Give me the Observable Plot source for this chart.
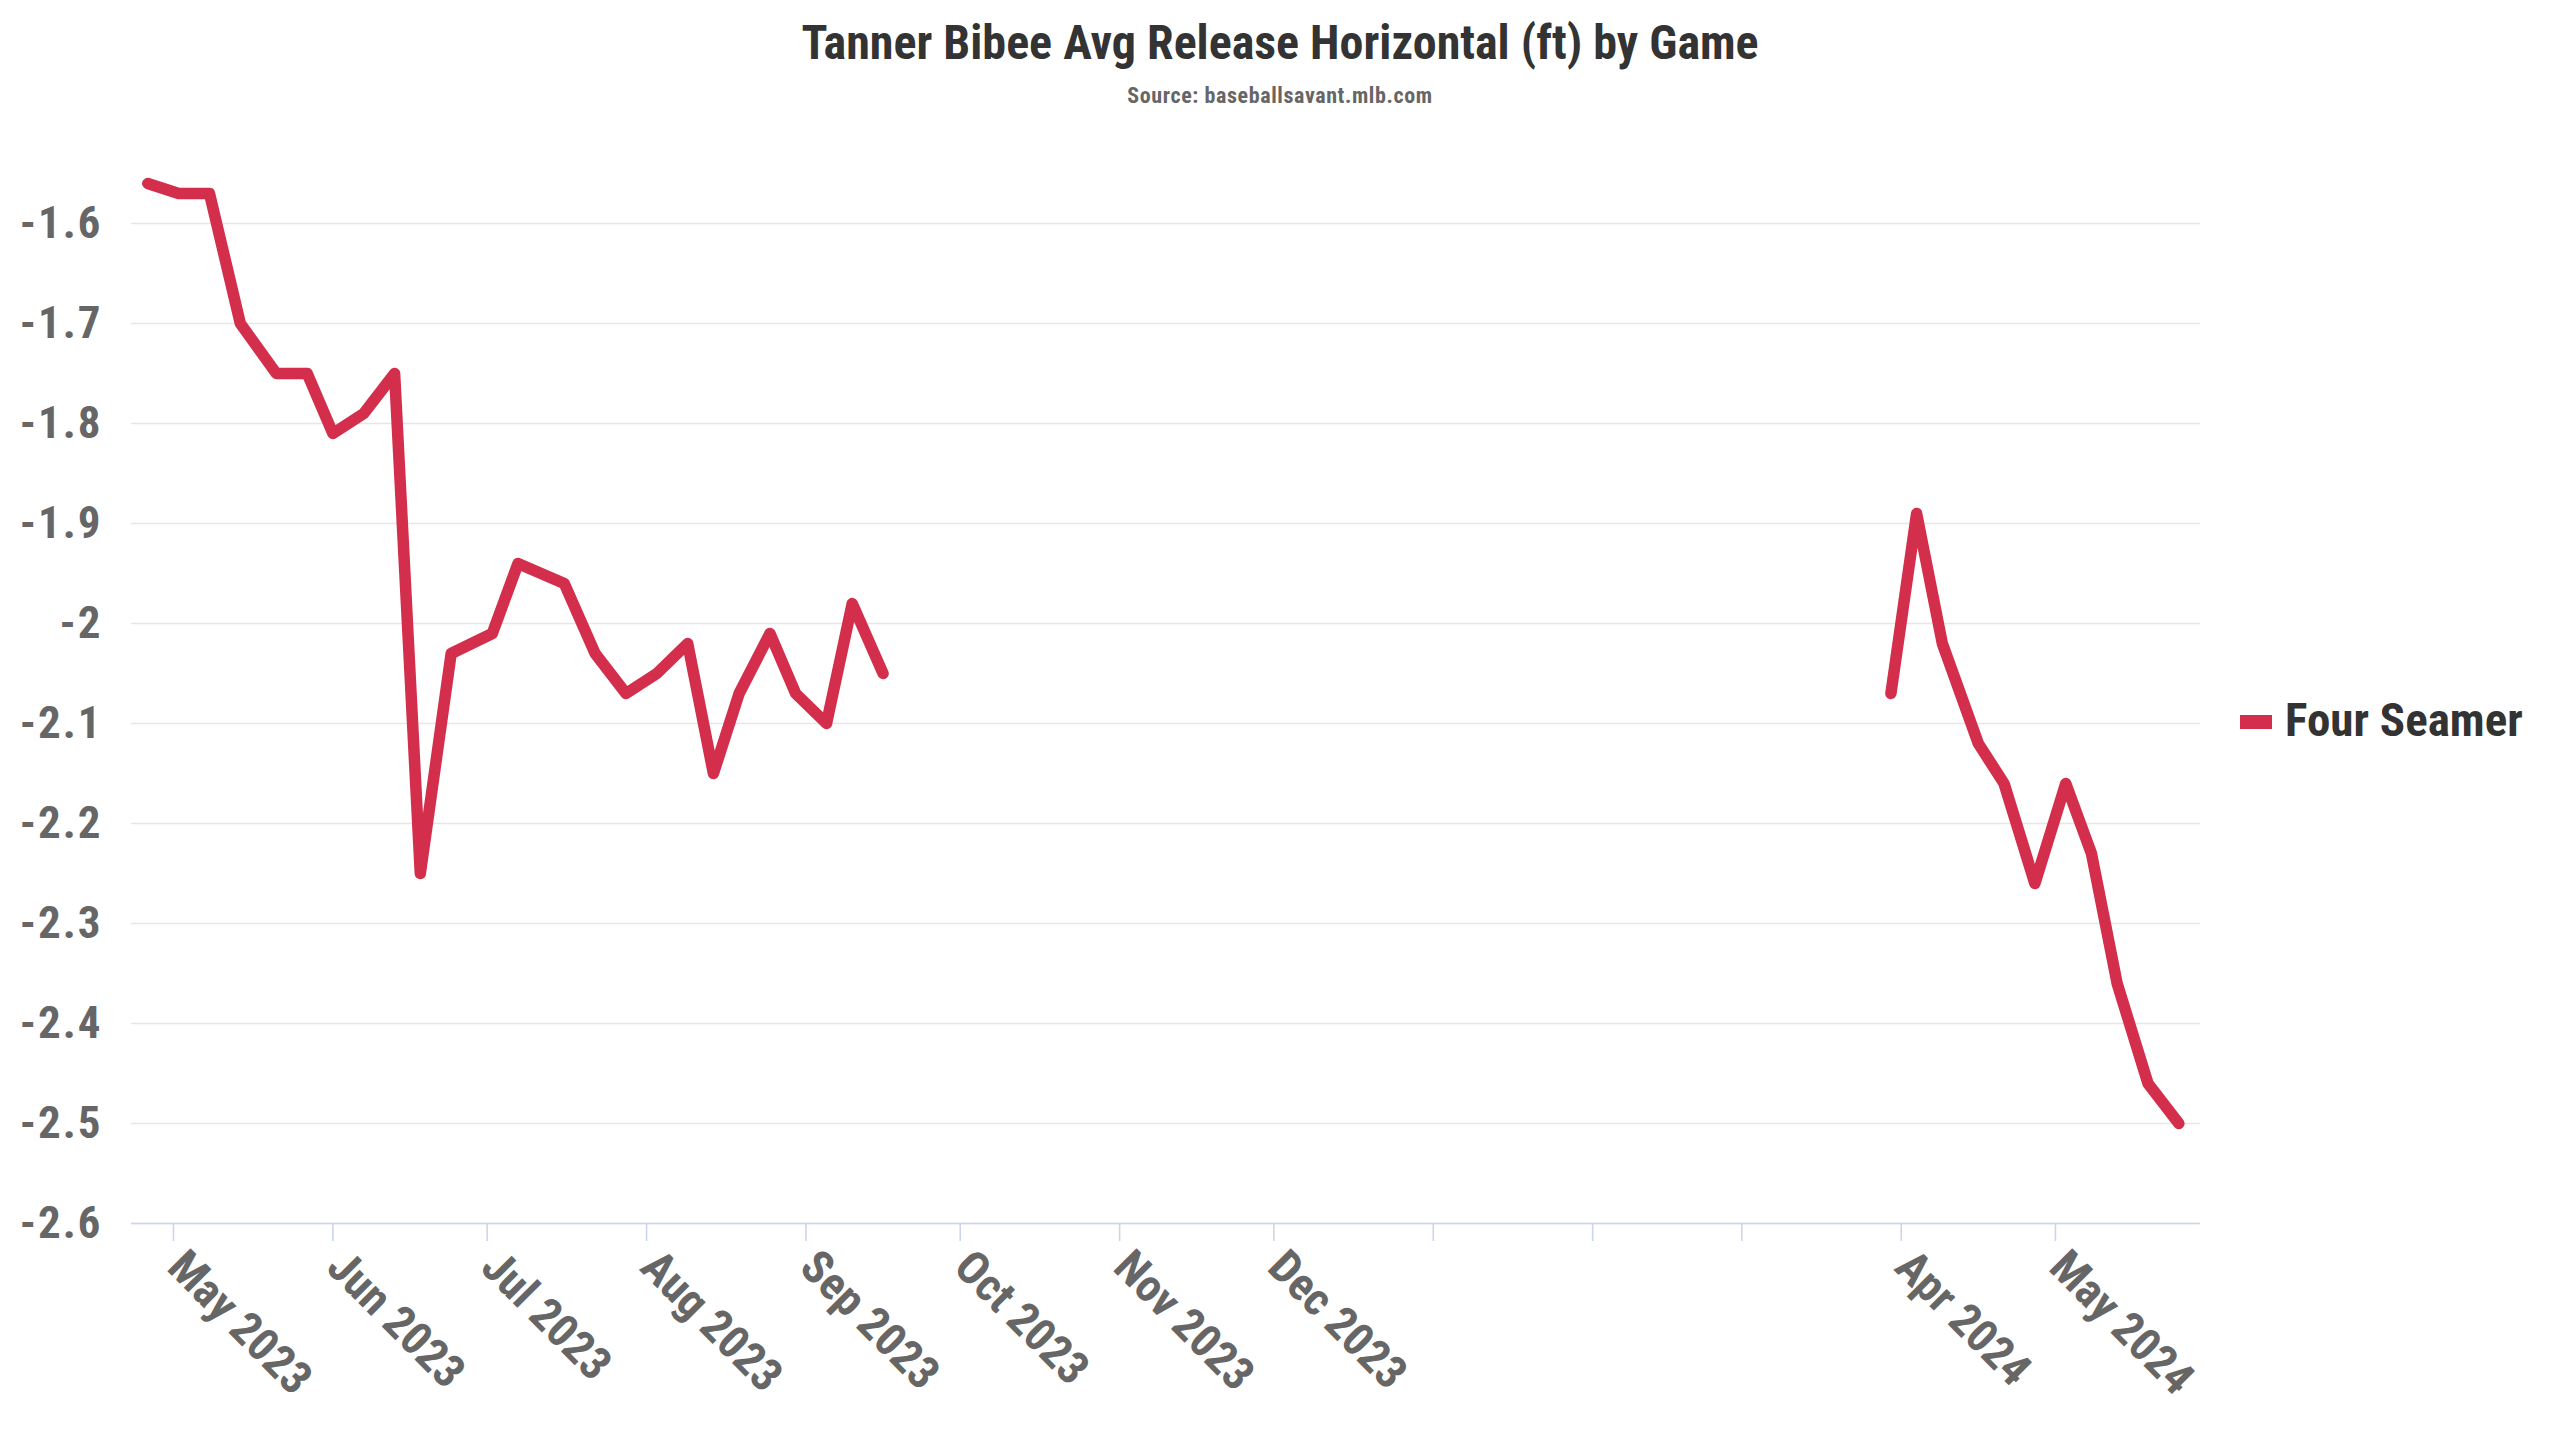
<!DOCTYPE html>
<html>
<head>
<meta charset="utf-8">
<script src="https://cdn.jsdelivr.net/npm/d3@7"></script>
<script src="https://cdn.jsdelivr.net/npm/@observablehq/plot@0.6"></script>
<style>
  html, body { margin: 0; padding: 0; background: #fff; }
  body { font-family: "Roboto Condensed", "Liberation Sans Narrow", "DejaVu Sans Condensed", Roboto, sans-serif; font-stretch: condensed; }
  #wrap { position: relative; width: 2560px; height: 1440px; overflow: hidden; }
  #head { position: relative; width: 2560px; height: 120px; }
  #title { position: absolute; left: 0; top: 19px; width: 2560px; text-align: center; font-size: 48px; line-height: 48px; font-weight: 700; color: #333333; }
  #subtitle { position: absolute; left: 0; top: 85px; width: 2560px; text-align: center; font-size: 22px; line-height: 22px; font-weight: 700; color: #666666; letter-spacing: 0.6px; }
  #legend { position: absolute; left: 2240px; top: 696px; height: 47px; }
  #legend .sw { position: absolute; left: 0; top: 19px; width: 32px; height: 14px; }
  #legend .lab { position: absolute; left: 45px; top: 0; font-size: 47px; line-height: 47px; font-weight: 700; color: #333333; white-space: nowrap; }
  svg { display: block; }
</style>
</head>
<body>
<div id="wrap">
  <div id="head">
    <div id="title"></div>
    <div id="subtitle"></div>
  </div>
  <div id="chart"></div>
  <div id="legend"><div class="sw"></div><div class="lab"></div></div>
</div>
<script>
const titleText = "Tanner Bibee Avg Release Horizontal (ft) by Game";
const subtitleText = "Source: baseballsavant.mlb.com";
const seriesName = "Four Seamer";
const lineColor = "#d32e4b";

const gameDates = [
  "2023-04-26","2023-05-02","2023-05-08","2023-05-14","2023-05-21","2023-05-27",
  "2023-06-01","2023-06-07","2023-06-13","2023-06-18","2023-06-24","2023-07-02",
  "2023-07-07","2023-07-16","2023-07-22","2023-07-28","2023-08-03","2023-08-09",
  "2023-08-14","2023-08-19","2023-08-25","2023-08-30","2023-09-05","2023-09-10",
  "2023-09-16",
  "2024-03-30","2024-04-04","2024-04-09","2024-04-16","2024-04-21","2024-04-27",
  "2024-05-03","2024-05-08","2024-05-13","2024-05-19","2024-05-25"
];
const releaseX = [
  -1.56,-1.57,-1.57,-1.70,-1.75,-1.75,
  -1.81,-1.79,-1.75,-2.25,-2.03,-2.01,
  -1.94,-1.96,-2.03,-2.07,-2.05,-2.02,
  -2.15,-2.07,-2.01,-2.07,-2.10,-1.98,
  -2.05,
  -2.07,-1.89,-2.02,-2.12,-2.16,-2.26,
  -2.16,-2.23,-2.36,-2.46,-2.50
];

const xStart = "2023-04-22T20:00:00Z";
const xEnd = "2024-05-29T05:00:00Z";

const xTickDates = [
  "2023-05-01","2023-06-01","2023-07-01","2023-08-01","2023-09-01","2023-10-01",
  "2023-11-01","2023-12-01","2024-01-01","2024-02-01","2024-03-01","2024-04-01","2024-05-01"
];
const xTickLabels = [
  "May 2023","Jun 2023","Jul 2023","Aug 2023","Sep 2023","Oct 2023",
  "Nov 2023","Dec 2023","","","","Apr 2024","May 2024"
];

const yTicks = [-1.6,-1.7,-1.8,-1.9,-2.0,-2.1,-2.2,-2.3,-2.4,-2.5,-2.6];
const yTickLabels = ["-1.6","-1.7","-1.8","-1.9","-2","-2.1","-2.2","-2.3","-2.4","-2.5","-2.6"];
const yMin = -2.6, yMax = -1.55;

const FONT = '"Roboto Condensed", "Liberation Sans Narrow", "DejaVu Sans Condensed", Roboto, sans-serif';

document.getElementById("title").textContent = titleText;
document.getElementById("subtitle").textContent = subtitleText;
document.querySelector("#legend .sw").style.background = lineColor;
document.querySelector("#legend .lab").textContent = seriesName;

const parse = s => new Date(s.length > 10 ? s : s + "T00:00:00Z");
const games = gameDates.map((d, i) => {
  const date = parse(d);
  return {date, value: releaseX[i], season: date.getUTCFullYear()};
});
const tickDates = xTickDates.map(parse);
const xLabelMap = new Map(tickDates.map((d, i) => [+d, xTickLabels[i]]));
const yLabelMap = new Map(yTicks.map((v, i) => [Math.round(v * 10), yTickLabels[i]]));

const chart = Plot.plot({
  width: 2560,
  height: 1320,
  marginTop: 53,
  marginBottom: 217,
  marginLeft: 131,
  marginRight: 360,
  style: {fontFamily: FONT, fontWeight: "bold", background: "#fff", overflow: "visible", fontStretch: "condensed"},
  x: {type: "utc", domain: [parse(xStart), parse(xEnd)], label: null},
  y: {domain: [yMin, yMax], label: null},
  marks: [
    Plot.gridY(yTicks, {stroke: "#e6e6e6", strokeOpacity: 1, strokeWidth: 1.6}),
    Plot.ruleY([yMin], {stroke: "#ccd6eb", strokeWidth: 1.6}),
    Plot.axisY(yTicks, {
      label: null, tickSize: 0, tickPadding: 29, fontSize: 45, fill: "#666666",
      tickFormat: d => yLabelMap.get(Math.round(d * 10))
    }),
    Plot.axisX(tickDates, {
      label: null, tickSize: 18, stroke: "#ccd6eb", strokeWidth: 1.6, tickFormat: () => ""
    }),
    Plot.axisX(tickDates, {
      label: null, tickSize: 0, tickPadding: 23, tickRotate: 45, textAnchor: "start", lineAnchor: "top",
      dx: 15, fontSize: 46, fill: "#666666",
      tickFormat: d => xLabelMap.get(+d)
    }),
    Plot.line(games, {
      x: "date", y: "value", z: "season",
      stroke: lineColor, strokeWidth: 11.5, strokeLinejoin: "round", strokeLinecap: "round"
    })
  ]
});
d3.select(chart).selectAll('g[aria-label="y-axis tick label"] text').style("letter-spacing", "2px");
document.getElementById("chart").appendChild(chart);
</script>
</body>
</html>
